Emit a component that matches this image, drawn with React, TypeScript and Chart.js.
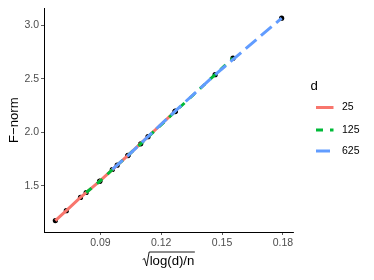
import React, { useEffect, useRef } from "react";
import { Chart, registerables } from "chart.js";
Chart.register(...registerables);

const dLevels = ["25", "125", "625"];
const xD25 = [0.0678, 0.0732, 0.0802, 0.0897, 0.1036, 0.1269];
const yD25 = [1.177, 1.269, 1.393, 1.546, 1.786, 2.198];
const xD125 = [0.083, 0.0897, 0.0983, 0.1099, 0.1269, 0.1554];
const yD125 = [1.439, 1.544, 1.694, 1.894, 2.195, 2.694];
const xD625 = [0.0959, 0.1036, 0.1135, 0.1269, 0.1466, 0.1794];
const yD625 = [1.654, 1.784, 1.961, 2.2, 2.54, 3.068];
const xTicks = [0.09, 0.12, 0.15, 0.18];
const yTicks = [1.5, 2.0, 2.5, 3.0];
const colors = ["#F8766D", "#00BA38", "#619CFF"];
const dashes = [[], [7, 7], [14, 6]];

const FONT = "'Liberation Sans', Arial, sans-serif";

function pts(xs: number[], ys: number[]) {
  return xs.map((x, i) => ({ x, y: ys[i] }));
}

export default function App() {
  const ref = useRef<HTMLCanvasElement>(null);
  useEffect(() => {
    const series = [pts(xD25, yD25), pts(xD125, yD125), pts(xD625, yD625)];
    const lineSets = series.map((data, i) => ({
      type: "line" as const,
      label: dLevels[i],
      data,
      borderColor: colors[i],
      backgroundColor: colors[i],
      borderWidth: 3,
      borderDash: dashes[i],
      borderCapStyle: "butt" as const,
      pointRadius: 0,
      fill: false,
      tension: 0,
      order: 2 - i,
    }));
    const pointSet = {
      type: "scatter" as const,
      label: "pts",
      data: series.flat(),
      backgroundColor: "#000000",
      borderColor: "#000000",
      pointRadius: 2.6,
      borderWidth: 0,
      showLine: false,
      order: 10,
    };

    const deco = {
      id: "deco",
      afterDraw(chart: any) {
        const ctx = chart.ctx as CanvasRenderingContext2D;
        const ca = chart.chartArea;
        ctx.save();
        // y title
        ctx.fillStyle = "#000";
        ctx.font = `13.2px ${FONT}`;
        ctx.textAlign = "center";
        ctx.textBaseline = "middle";
        ctx.save();
        ctx.translate(14, (ca.top + ca.bottom) / 2);
        ctx.rotate(-Math.PI / 2);
        ctx.fillText("F\u2212norm", 0, 0);
        ctx.restore();
        // x title with radical
        const body = "log(d)/n";
        ctx.font = `13.2px ${FONT}`;
        const w = ctx.measureText(body).width;
        const radW = 7;
        const cx = (ca.left + ca.right) / 2;
        const x0 = cx - (w + radW) / 2;
        const base = 265;
        ctx.textAlign = "left";
        ctx.textBaseline = "alphabetic";
        ctx.fillText(body, x0 + radW, base);
        ctx.strokeStyle = "#000";
        ctx.lineWidth = 0.9;
        ctx.beginPath();
        ctx.moveTo(x0, base - 5.5);
        ctx.lineTo(x0 + 1.8, base - 6.5);
        ctx.lineTo(x0 + 4, base + 1);
        ctx.lineTo(x0 + 6.5, base - 13);
        ctx.lineTo(x0 + radW + w + 0.5, base - 13);
        ctx.stroke();
        // legend
        ctx.font = `13.2px ${FONT}`;
        ctx.fillText("d", 310.5, 90);
        const ys = [107.5, 130, 151];
        ctx.font = `10.5px ${FONT}`;
        ctx.textBaseline = "middle";
        for (let i = 0; i < 3; i++) {
          ctx.strokeStyle = colors[i];
          ctx.lineWidth = 3;
          ctx.lineCap = "butt";
          ctx.setLineDash(dashes[i]);
          ctx.beginPath();
          ctx.moveTo(316, ys[i]);
          ctx.lineTo(333.5, ys[i]);
          ctx.stroke();
          ctx.setLineDash([]);
          ctx.fillStyle = "#000";
          ctx.fillText(dLevels[i], 342, ys[i]);
        }
        ctx.restore();
      },
    };

    const chart = new Chart(ref.current!, {
      type: "scatter",
      data: { datasets: [...lineSets, pointSet] as any },
      plugins: [deco],
      options: {
        animation: false,
        responsive: false,
        devicePixelRatio: 1,
        layout: { padding: { left: 0, top: 7, right: 81, bottom: 0 } },
        plugins: { legend: { display: false }, tooltip: { enabled: false } },
        scales: {
          x: {
            type: "linear",
            min: 0.0622,
            max: 0.185,
            afterFit: (s: any) => {
              s.height = 48;
            },
            afterBuildTicks: (s: any) => {
              s.ticks = xTicks.map((v) => ({ value: v }));
            },
            ticks: {
              color: "#4D4D4D",
              font: { family: FONT, size: 10.5 },
              padding: 2,
              maxRotation: 0,
              callback: (v: any) => Number(v).toFixed(2),
            },
            grid: {
              drawOnChartArea: false,
              tickLength: 3,
              color: "#333333",
              lineWidth: 0.8,
            },
            border: { display: true, color: "#000", width: 1 },
          },
          y: {
            type: "linear",
            min: 1.07,
            max: 3.16,
            afterFit: (s: any) => {
              s.width = 44;
            },
            afterBuildTicks: (s: any) => {
              s.ticks = yTicks.map((v) => ({ value: v }));
            },
            ticks: {
              color: "#4D4D4D",
              font: { family: FONT, size: 10.5 },
              padding: 2,
              callback: (v: any) => Number(v).toFixed(1),
            },
            grid: {
              drawOnChartArea: false,
              tickLength: 3,
              color: "#333333",
              lineWidth: 0.8,
            },
            border: { display: true, color: "#000", width: 1 },
          },
        },
      },
    });
    return () => chart.destroy();
  }, []);
  return (
    <div style={{ position: "fixed", left: 0, top: 0, width: 374, height: 280, background: "#fff" }}>
      <canvas ref={ref} width={374} height={280} style={{ width: 374, height: 280 }} />
    </div>
  );
}
